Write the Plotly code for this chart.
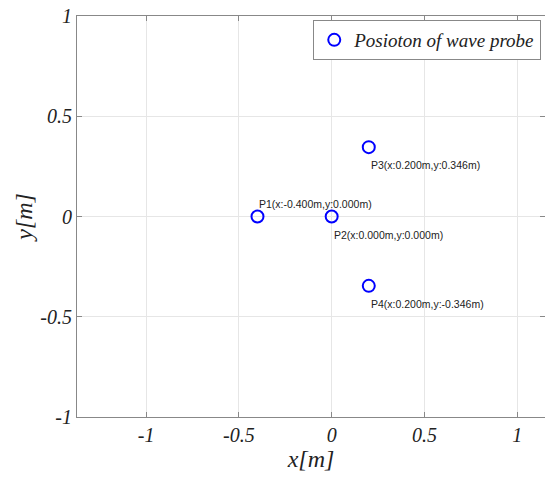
import plotly.graph_objects as go

# Wave probe positions (metres)
probe_names = ["P1", "P2", "P3", "P4"]
probe_x = [-0.400, 0.000, 0.200, 0.200]
probe_y = [0.000, 0.000, 0.346, -0.346]
label_above = [True, False, False, False]

x_ticks = [-1, -0.5, 0, 0.5, 1]
x_tick_text = ["-1", "-0.5", "0", "0.5", "1"]
y_ticks = [-1, -0.5, 0, 0.5, 1]
y_tick_text = ["-1", "-0.5", "0", "0.5", "1"]

serif = "Liberation Serif, Times New Roman, serif"

fig = go.Figure()
fig.add_trace(go.Scatter(
    x=probe_x, y=probe_y, mode="markers",
    name="<i>Posioton of wave probe</i>",
    marker=dict(symbol="circle-open", size=12, color="#0000ff",
                line=dict(width=2, color="#0000ff")),
))

for name, px, py, above in zip(probe_names, probe_x, probe_y, label_above):
    fig.add_annotation(
        x=px, y=py, xref="x", yref="y",
        text=f"{name}(x:{px:.3f}m,y:{py:.3f}m)",
        showarrow=False, xanchor="left",
        yanchor="bottom" if above else "top",
        yshift=5 if above else -10,
        font=dict(family="Liberation Sans, Arial, sans-serif", size=10.5, color="#222222"),
    )

axis_common = dict(
    showline=True, linecolor="#888888", linewidth=1, mirror="ticks",
    ticks="inside", ticklen=5, tickcolor="#888888",
    showgrid=True, gridcolor="#e6e6e6", gridwidth=1,
    zeroline=False,
    tickfont=dict(family=serif, size=20, color="#222222", style="italic"),
)

fig.update_layout(
    width=545, height=477,
    margin=dict(l=77, r=0, t=16, b=60),
    paper_bgcolor="white", plot_bgcolor="white",
    xaxis=dict(range=[-1.373, 1.15], tickvals=x_ticks, ticktext=x_tick_text,
               title=dict(text="<i>x[m]</i>", font=dict(family=serif, size=24, color="#222222"),
                          standoff=2),
               **axis_common),
    yaxis=dict(range=[-1, 1], tickvals=y_ticks, ticktext=y_tick_text,
               title=dict(text="<i>y[m]</i>", font=dict(family=serif, size=24, color="#222222"),
                          standoff=0),
               **axis_common),
    showlegend=True,
    legend=dict(x=0.992, y=0.99, xanchor="right", yanchor="top",
                bordercolor="#888888", borderwidth=1, bgcolor="white",
                font=dict(family=serif, size=19, color="#222222"),
                itemwidth=30),
)

fig.write_html("out.html")
